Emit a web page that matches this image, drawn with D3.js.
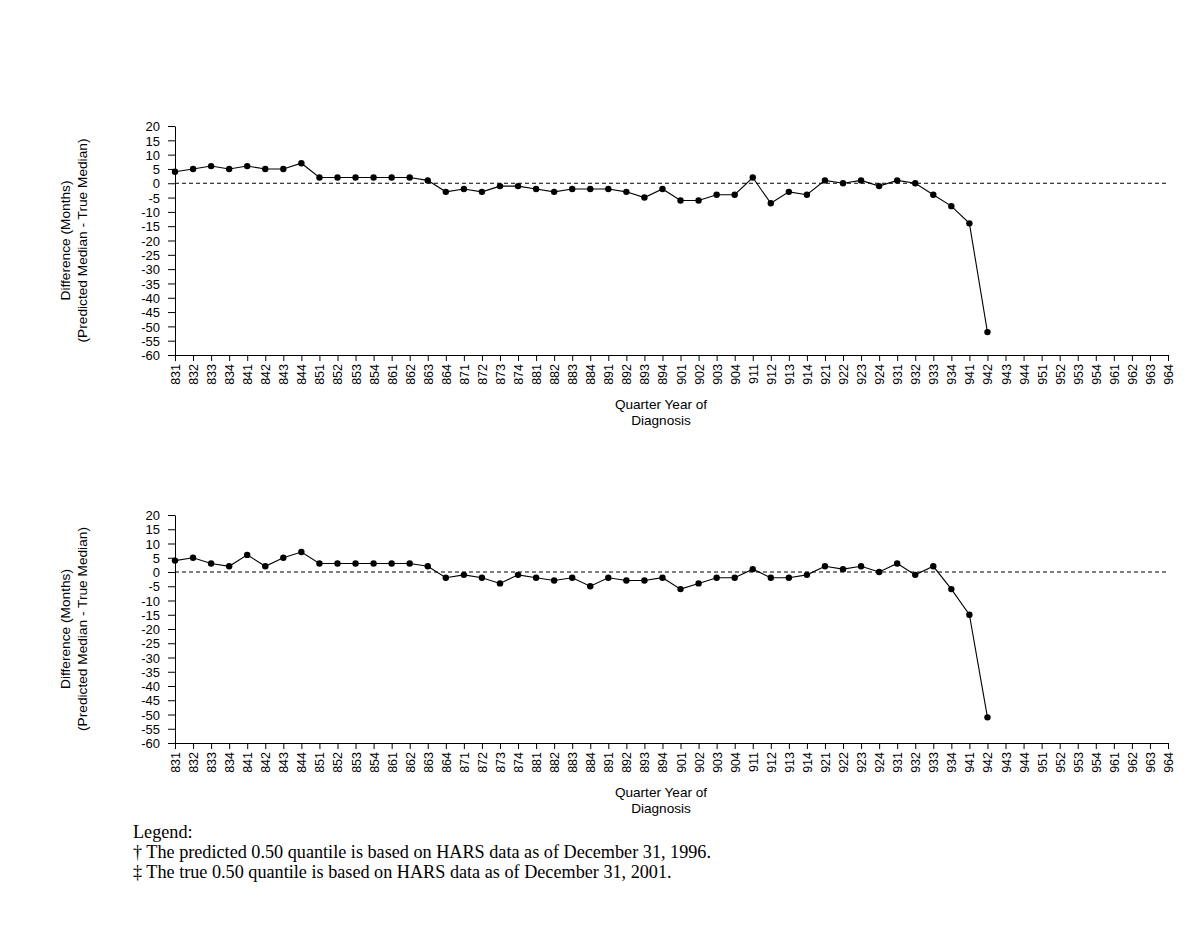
<!DOCTYPE html>
<html>
<head>
<meta charset="utf-8">
<script src="https://cdn.jsdelivr.net/npm/d3@7"></script>
<style>
  body { margin: 0; background: #fff; }
  text { font-family: "Liberation Sans", Arial, Helvetica, sans-serif; }
</style>
</head>
<body>
<div id="my_dataviz"></div>
<script>
// quarter labels (year digit + quarter), 1983 Q1 .. 1996 Q4
var quarters = ["831","832","833","834","841","842","843","844",
  "851","852","853","854","861","862","863","864",
  "871","872","873","874","881","882","883","884",
  "891","892","893","894","901","902","903","904",
  "911","912","913","914","921","922","923","924",
  "931","932","933","934","941","942","943","944",
  "951","952","953","954","961","962","963","964"];

// differences, top panel (values only up to 942)
var diffTop = [4,5,6,5,6,5,5,7, 2,2,2,2,2,2,1,-3,
  -2,-3,-1,-1,-2,-3,-2,-2, -2,-3,-5,-2,-6,-6,-4,-4,
  2,-7,-3,-4,1,0,1,-1, 1,0,-4,-8,-14,-52];

// differences, bottom panel
var diffBottom = [4,5,3,2,6,2,5,7, 3,3,3,3,3,3,2,-2,
  -1,-2,-4,-1,-2,-3,-2,-5, -2,-3,-3,-2,-6,-4,-2,-2,
  1,-2,-2,-1,2,1,2,0, 3,-1,2,-6,-15,-51];

var yTicks = d3.range(-60, 21, 5);

var legendLines = ["Legend:",
  "\u2020 The predicted 0.50 quantile is based on HARS data as of December 31, 1996.",
  "\u2021 The true 0.50 quantile is based on HARS data as of December 31, 2001."];

var W = 1200, H = 927;

var svg = d3.select("#my_dataviz")
  .append("svg")
  .attr("width", W)
  .attr("height", H);

// shared x scale
var x = d3.scalePoint()
  .domain(quarters)
  .range([175, 1168]);

function drawPanel(values, top, bottom) {
  var y = d3.scaleLinear().domain([-60, 20]).range([bottom, top]);
  var g = svg.append("g");

  // y axis
  var ya = g.append("g")
    .attr("transform", "translate(175,0)")
    .call(d3.axisLeft(y).tickValues(yTicks).tickSize(7).tickPadding(8).tickSizeOuter(0)
      .tickFormat(function (d) { return String(d); }));
  ya.selectAll("text").style("font-size", "13px").attr("fill", "#000").attr("dy", "0.36em");
  ya.selectAll("line, path").attr("stroke", "#000");

  // x axis
  var xa = g.append("g")
    .attr("transform", "translate(0," + bottom + ")")
    .call(d3.axisBottom(x).tickSize(6).tickSizeOuter(0));
  xa.selectAll("text")
    .style("font-size", "12.5px")
    .attr("fill", "#000")
    .style("text-anchor", "end")
    .attr("transform", "rotate(-90)")
    .attr("x", -9)
    .attr("y", 0)
    .attr("dy", "0.36em");
  xa.selectAll("line, path").attr("stroke", "#000");

  // zero reference line
  g.append("line")
    .attr("x1", x(quarters[0]))
    .attr("x2", x(quarters[quarters.length - 1]))
    .attr("y1", y(0))
    .attr("y2", y(0))
    .attr("stroke", "#000")
    .attr("stroke-width", 1)
    .attr("stroke-dasharray", "4,3");

  var pts = values.map(function (v, i) { return { q: quarters[i], v: v }; });

  g.append("path")
    .datum(pts)
    .attr("fill", "none")
    .attr("stroke", "#000")
    .attr("stroke-width", 1.1)
    .attr("d", d3.line()
      .x(function (d) { return x(d.q); })
      .y(function (d) { return y(d.v); }));

  g.selectAll("circle")
    .data(pts)
    .enter()
    .append("circle")
    .attr("cx", function (d) { return x(d.q); })
    .attr("cy", function (d) { return y(d.v); })
    .attr("r", 3.2)
    .attr("fill", "#000");

  // y axis title
  var mid = (top + bottom) / 2;
  g.append("text")
    .attr("transform", "translate(70," + mid + ") rotate(-90)")
    .attr("text-anchor", "middle")
    .style("font-size", "13.7px")
    .text("Difference (Months)");
  g.append("text")
    .attr("transform", "translate(86.5," + mid + ") rotate(-90)")
    .attr("text-anchor", "middle")
    .style("font-size", "13.7px")
    .text("(Predicted Median - True Median)");

  // x axis title
  g.append("text")
    .attr("x", 661).attr("y", bottom + 54)
    .attr("text-anchor", "middle")
    .style("font-size", "13.6px")
    .text("Quarter Year of");
  g.append("text")
    .attr("x", 661).attr("y", bottom + 70)
    .attr("text-anchor", "middle")
    .style("font-size", "13.6px")
    .text("Diagnosis");
}

drawPanel(diffTop, 126, 355);
drawPanel(diffBottom, 515, 743);

// legend
svg.append("g")
  .selectAll("text")
  .data(legendLines)
  .enter()
  .append("text")
  .attr("x", 133)
  .attr("y", function (d, i) { return 838 + i * 20; })
  .style("font-family", "'Liberation Serif', 'Times New Roman', serif")
  .style("font-size", "18.2px")
  .text(function (d) { return d; });
</script>
</body>
</html>
